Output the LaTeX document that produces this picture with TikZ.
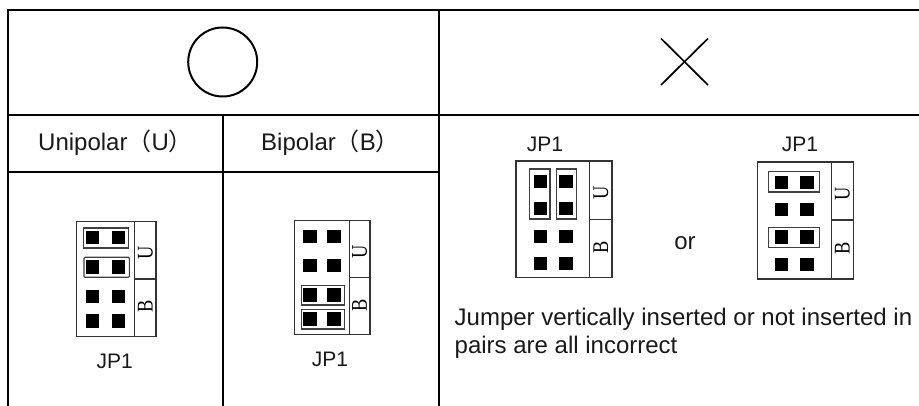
\documentclass[tikz,border=0pt]{standalone}
\usepackage{fontspec}
\usepackage{graphicx}
\setmainfont{Liberation Sans}
\newfontfamily\cjkf{Noto Sans CJK SC}
\newfontfamily\serf{Liberation Serif}
\tikzset{
  grid line/.style={line width=2pt,black,line cap=rect},
  box line/.style={line width=1.1pt,black!80},
  jumper/.style={line width=1.1pt,black!75},
  pin/.style={fill=black,draw=none},
  label text/.style={font=\fontsize{24}{28}\selectfont,text=black!90,inner sep=0pt},
  jp text/.style={font=\fontsize{21}{24}\selectfont,text=black!90,inner sep=0pt},
  side text/.style={font=\serf\fontsize{20}{24}\selectfont,rotate=90,inner sep=0pt},
}
% x0 x1 xdiv y0 y1 ymid
\newcommand{\jpbox}[6]{%
  \draw[box line] (#1,#4) rectangle (#2,#5);
  \draw[box line] (#3,#4) -- (#3,#5);
  \draw[box line] (#3,#6) -- (#2,#6);
  \node[side text] at ({(#3+#2)/2},{(#4+#6)/2+3}) {\scalebox{0.92}[1.12]{U}};
  \node[side text] at ({(#3+#2)/2},{(#5+#6)/2-1}) {\scalebox{0.92}[1.12]{B}};
}
% xa xb y1 y2 y3 y4
\newcommand{\pins}[6]{%
  \foreach \py in {#3,#4,#5,#6}{\foreach \px in {#1,#2}{
    \fill[pin] (\px-6.6,\py-6.6) rectangle (\px+6.6,\py+6.6);}}
}
\begin{document}
\begin{tikzpicture}[x=1pt,y=-1pt]
\useasboundingbox (0,0) rectangle (919,406);
% table
\draw[grid line] (7.5,10) -- (919,10);
\draw[grid line] (7.5,115) -- (919,115);
\draw[grid line] (7.5,172) -- (439,172);
\draw[grid line] (7.5,10) -- (7.5,406);
\draw[grid line] (439,10) -- (439,406);
\draw[grid line] (222.5,115) -- (222.5,406);
% marks
\draw[line width=2pt] (222.7,62) circle (34.5);
\draw[line width=1.7pt] (661,38.5) -- (708,85);
\draw[line width=1.7pt] (708,38.5) -- (661,85);
% headers
\node[label text,anchor=base west] (uni) at (38,150.7) {Unipolar{\cjkf （}U{\cjkf ）}};
\node[label text,anchor=base west] (bip) at (261,150.7) {Bipolar{\cjkf （}B{\cjkf ）}};
% block 1
\jpbox{76.7}{156}{134.7}{221.7}{336.7}{279}
\pins{92.7}{118.3}{237.7}{267}{296.3}{321}
\draw[jumper] (83.3,228) rectangle (128.7,248);
\draw[jumper,rounded corners=1pt] (84,257.3) rectangle (129.3,277.3);
\node[jp text,anchor=base] (jpa) at (114.8,368) {JP1};
% block 2
\jpbox{294.3}{370}{349.3}{220.3}{334.7}{277.7}
\pins{310}{334}{236.3}{265.7}{295}{319}
\draw[jumper] (301.7,285.7) rectangle (344.3,305);
\draw[jumper] (301.7,309.7) rectangle (344.3,329);
\node[jp text,anchor=base] (jpb) at (330,366.7) {JP1};
% block 3
\jpbox{516}{612}{589.7}{161}{277.7}{219.3}
\pins{540.3}{566}{181.7}{208.3}{236.3}{263.3}
\draw[jumper] (529.7,169) rectangle (550,219);
\draw[jumper] (556.3,169) rectangle (576.7,219);
\node[jp text,anchor=base] (jpc) at (545,151.7) {JP1};
% block 4
\jpbox{757.3}{853.3}{831.3}{162}{279}{220}
\pins{781.3}{807}{182.3}{209.7}{237}{264.7}
\draw[jumper] (768.7,171.7) rectangle (819.7,192);
\draw[jumper] (768.7,227.3) rectangle (819.7,247.7);
\node[jp text,anchor=base] (jpd) at (800,151.7) {JP1};
\node[label text,anchor=base] (or) at (685,250) {or};
\node[label text,anchor=base west] (note1) at (454.5,325) {Jumper vertically inserted or not inserted in};
\node[label text,anchor=base west] (note2) at (454.5,353.3) {pairs are all incorrect};
\end{tikzpicture}
\end{document}
